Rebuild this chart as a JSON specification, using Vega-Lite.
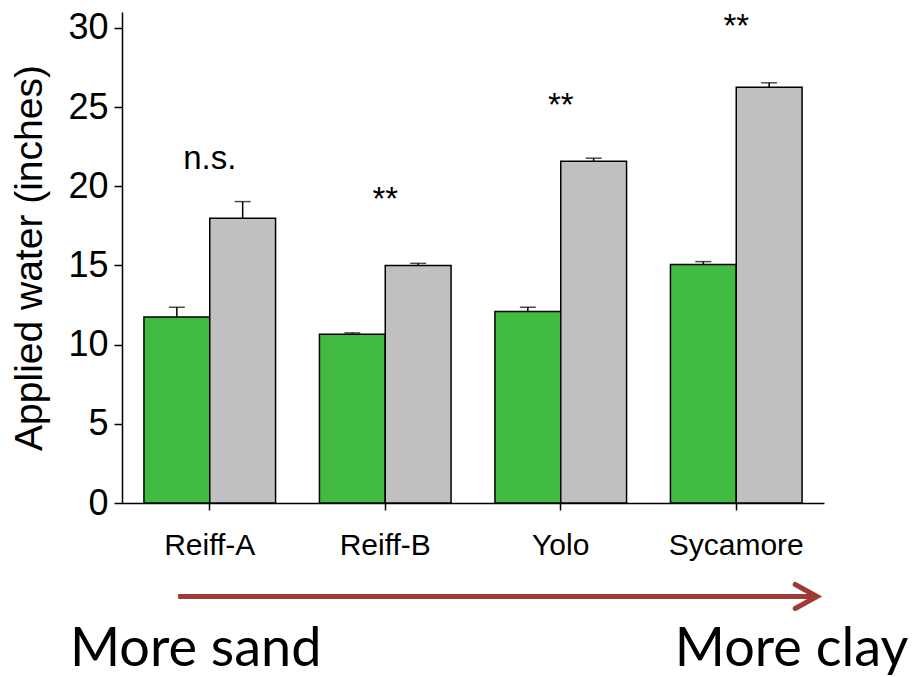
{
  "$schema": "https://vega.github.io/schema/vega-lite/v6.json",
  "width": 702,
  "height": 491,
  "autosize": {"type": "none"},
  "padding": {"left": 122, "top": 12, "right": 89, "bottom": 174},
  "background": "white",
  "config": {"view": {"stroke": null}, "font": "Liberation Sans"},
  "datasets": {
    "bars": [
      {"site": "Reiff-A", "group": "Treatment 1", "value": 11.75, "upper": 12.36},
      {"site": "Reiff-A", "group": "Treatment 2", "value": 17.98, "upper": 19.03},
      {"site": "Reiff-B", "group": "Treatment 1", "value": 10.66, "upper": 10.74},
      {"site": "Reiff-B", "group": "Treatment 2", "value": 14.99, "upper": 15.13},
      {"site": "Yolo", "group": "Treatment 1", "value": 12.09, "upper": 12.36},
      {"site": "Yolo", "group": "Treatment 2", "value": 21.58, "upper": 21.77},
      {"site": "Sycamore", "group": "Treatment 1", "value": 15.06, "upper": 15.24},
      {"site": "Sycamore", "group": "Treatment 2", "value": 26.25, "upper": 26.53}
    ],
    "notes": [
      {"site": "Reiff-A", "label": "n.s.", "y": 21.1},
      {"site": "Reiff-B", "label": "**", "y": 18.5},
      {"site": "Yolo", "label": "**", "y": 24.45},
      {"site": "Sycamore", "label": "**", "y": 29.45}
    ],
    "arrow": [
      {"x": 0.08, "x2": 0.985, "y": -5.9}
    ],
    "arrowhead": [
      {"x": 0.99, "y": -5.9}
    ],
    "leftEnd": [
      {"x": -0.074, "y": -10.3, "label": "More sand"}
    ],
    "rightEnd": [
      {"x": 1.12, "y": -10.3, "label": "More clay"}
    ]
  },
  "layer": [
    {
      "layer": [
        {
          "data": {"name": "bars"},
          "mark": {"type": "bar", "stroke": "black", "strokeWidth": 1.5},
          "encoding": {
            "x": {
              "field": "site", "type": "nominal",
              "sort": ["Reiff-A", "Reiff-B", "Yolo", "Sycamore"],
              "scale": {"paddingInner": 0.25, "paddingOuter": 0.125},
              "axis": {
                "title": null, "labelAngle": 0, "labelFontSize": 30, "labelColor": "black",
                "tickSize": 7, "tickColor": "black", "tickWidth": 1.5,
                "domainColor": "black", "domainWidth": 1.5, "labelPadding": 20
              }
            },
            "xOffset": {"field": "group", "type": "nominal", "scale": {"paddingInner": 0, "paddingOuter": 0}},
            "y": {
              "field": "value", "type": "quantitative",
              "scale": {"domain": [0, 31], "nice": false, "zero": true},
              "axis": {
                "values": [0, 5, 10, 15, 20, 25, 30],
                "title": "Applied water (inches)", "titleFontSize": 39, "titleFontWeight": "normal",
                "titleColor": "black", "titlePadding": 18,
                "labelFontSize": 36, "labelColor": "black", "labelPadding": 6,
                "tickSize": 8, "tickColor": "black", "tickWidth": 1.5,
                "domainColor": "black", "domainWidth": 1.5, "grid": false
              }
            },
            "fill": {
              "field": "group", "type": "nominal",
              "scale": {"domain": ["Treatment 1", "Treatment 2"], "range": ["#40BB40", "#C0C0C0"]},
              "legend": null
            }
          }
        },
        {
          "data": {"name": "bars"},
          "mark": {"type": "rule", "color": "black", "strokeWidth": 1.5},
          "encoding": {
            "x": {"field": "site", "type": "nominal", "sort": ["Reiff-A", "Reiff-B", "Yolo", "Sycamore"]},
            "xOffset": {"field": "group", "type": "nominal"},
            "y": {"field": "value", "type": "quantitative"},
            "y2": {"field": "upper"}
          }
        },
        {
          "data": {"name": "bars"},
          "mark": {"type": "tick", "color": "black", "thickness": 1.5, "size": 16, "orient": "horizontal"},
          "encoding": {
            "x": {"field": "site", "type": "nominal", "sort": ["Reiff-A", "Reiff-B", "Yolo", "Sycamore"]},
            "xOffset": {"field": "group", "type": "nominal"},
            "y": {"field": "upper", "type": "quantitative"}
          }
        },
        {
          "data": {"name": "notes"},
          "mark": {"type": "text", "fontSize": 33, "color": "black", "baseline": "alphabetic", "clip": false},
          "encoding": {
            "x": {"field": "site", "type": "nominal", "sort": ["Reiff-A", "Reiff-B", "Yolo", "Sycamore"]},
            "y": {"field": "y", "type": "quantitative"},
            "text": {"field": "label"}
          }
        }
      ]
    },
    {
      "layer": [
        {
          "data": {"name": "arrow"},
          "mark": {"type": "rule", "color": "#9E3B37", "strokeWidth": 5, "clip": false},
          "encoding": {
            "x": {"field": "x", "type": "quantitative", "scale": {"domain": [0, 1], "nice": false, "zero": false}, "axis": null},
            "x2": {"field": "x2"},
            "y": {"field": "y", "type": "quantitative"}
          }
        },
        {
          "data": {"name": "arrowhead"},
          "mark": {"type": "point", "shape": "M-1,-0.55L0,0L-1,0.55", "size": 1900, "filled": false, "stroke": "#9E3B37", "strokeWidth": 5, "opacity": 1, "strokeCap": "round", "clip": false},
          "encoding": {
            "x": {"field": "x", "type": "quantitative", "scale": {"domain": [0, 1], "nice": false, "zero": false}, "axis": null},
            "y": {"field": "y", "type": "quantitative"}
          }
        },
        {
          "data": {"name": "leftEnd"},
          "mark": {"type": "text", "fontSize": 54, "font": "Lato", "color": "black", "baseline": "alphabetic", "align": "left", "clip": false},
          "encoding": {
            "x": {"field": "x", "type": "quantitative", "scale": {"domain": [0, 1], "nice": false, "zero": false}, "axis": null},
            "y": {"field": "y", "type": "quantitative"},
            "text": {"field": "label"}
          }
        },
        {
          "data": {"name": "rightEnd"},
          "mark": {"type": "text", "fontSize": 54, "font": "Lato", "color": "black", "baseline": "alphabetic", "align": "right", "clip": false},
          "encoding": {
            "x": {"field": "x", "type": "quantitative", "scale": {"domain": [0, 1], "nice": false, "zero": false}, "axis": null},
            "y": {"field": "y", "type": "quantitative"},
            "text": {"field": "label"}
          }
        }
      ]
    }
  ],
  "resolve": {"scale": {"x": "independent"}}
}
